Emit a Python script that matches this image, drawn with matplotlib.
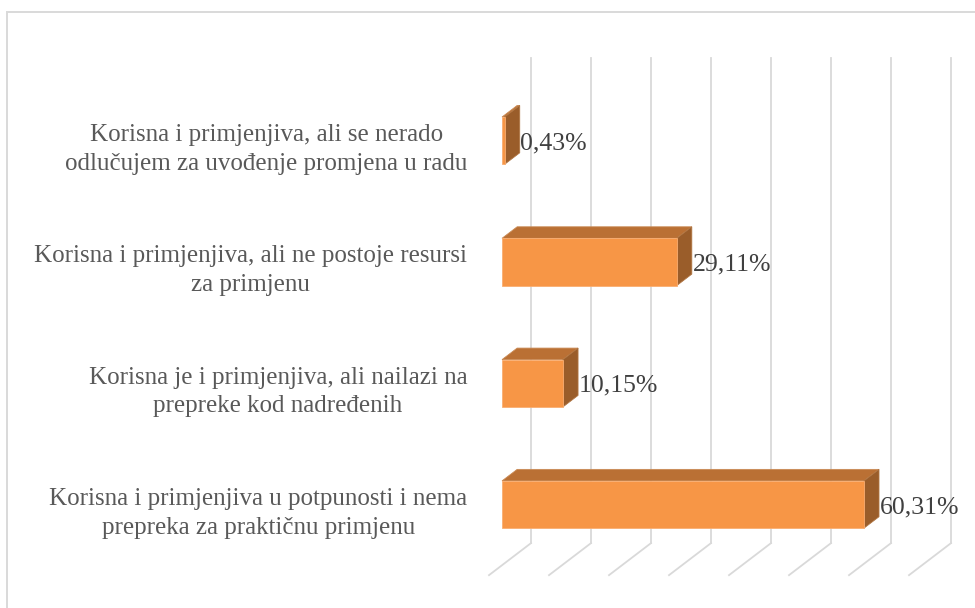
import matplotlib.pyplot as plt
from matplotlib.patches import Polygon, Rectangle

# categories from bottom to top
categories = [
    "Korisna i primjenjiva u potpunosti i nema\nprepreka za praktičnu primjenu",
    "Korisna je i primjenjiva, ali nailazi na\nprepreke kod nadređenih",
    "Korisna i primjenjiva, ali ne postoje resursi\nza primjenu",
    "Korisna i primjenjiva, ali se nerado\nodlučujem za uvođenje promjena u radu",
]
values = [60.31, 10.15, 29.11, 0.43]
value_labels = ["60,31%", "10,15%", "29,11%", "0,43%"]
grid_ticks = [0, 10, 20, 30, 40, 50, 60, 70]

# fake 3d projection: depth z in [0, 1] shifts right and up
DX, DY = 7.0, 0.264
Z0, Z1 = 0.31, 0.67
H = 0.39

def proj(x, y, z):
    return (x + z * DX, y + z * DY)

plt.rcParams['font.family'] = ['Liberation Serif', 'DejaVu Serif']

fig = plt.figure(figsize=(9.75, 6.08), dpi=100)
ax = fig.add_axes([0, 0, 1, 1])
ax.set_xlim(-489 / 6.0, (975 - 489) / 6.0)
ax.set_ylim(-93.5 / 121.3, 514.5 / 121.3)
ax.axis('off')

# chart frame
fig.patches.append(Rectangle((7 / 975, -0.1), 1.2, 1.1 - 12 / 608, transform=fig.transFigure,
                             fill=False, edgecolor='#D9D9D9', linewidth=1.4))

# back wall gridlines and floor lines
ymin, ymax = -0.5, len(categories) - 0.5
for t in grid_ticks:
    xa, ya = proj(t, ymin, 1)
    xb, yb = proj(t, ymax, 1)
    ax.plot([xa, xb], [ya, yb], color='#D9D9D9', lw=1.3, zorder=1)
    xc, yc = proj(t, ymin, 0)
    ax.plot([xc, xa], [yc, ya], color='#D9D9D9', lw=1.3, zorder=1)

front_c = '#F79646'
top_c = '#BA7034'
side_c = '#9A5D2A'

for i, (v, lab) in enumerate(zip(values, value_labels)):
    y0, y1 = i - H / 2, i + H / 2
    # top face
    top = [proj(0, y1, Z0), proj(v, y1, Z0), proj(v, y1, Z1), proj(0, y1, Z1)]
    ax.add_patch(Polygon(top, closed=True, facecolor=top_c, edgecolor='#C98A55', lw=0.6, zorder=3))
    # right side face
    side = [proj(v, y0, Z0), proj(v, y1, Z0), proj(v, y1, Z1), proj(v, y0, Z1)]
    ax.add_patch(Polygon(side, closed=True, facecolor=side_c, edgecolor='#B07542', lw=0.6, zorder=3))
    # front face
    front = [proj(0, y0, Z0), proj(v, y0, Z0), proj(v, y1, Z0), proj(0, y1, Z0)]
    ax.add_patch(Polygon(front, closed=True, facecolor=front_c, edgecolor='#F9AE72', lw=0.6, zorder=4))
    lx, ly = proj(v, i, Z1)
    ax.text(lx + 0.1, i + Z0 * DY - 0.02, lab, ha='left', va='center',
            fontsize=18.5, color='#404040', zorder=5)

for i, cat in enumerate(categories):
    ax.text(-3.6, i + 0.01, cat, ha='right', va='center', multialignment='center',
            fontsize=18, color='#595959', linespacing=1.4)

fig.savefig('out.png', dpi=100)
